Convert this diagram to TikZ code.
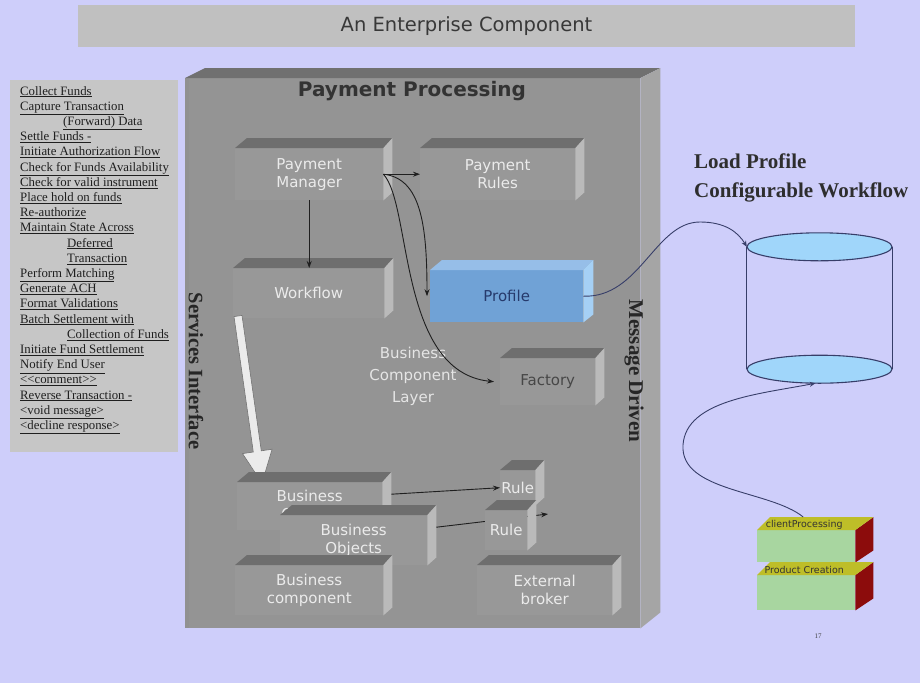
\documentclass[tikz,border=0pt]{standalone}
\usepackage{fontspec}
\setmainfont{Liberation Serif}
\newfontfamily\dvs{DejaVu Sans}
\usetikzlibrary{arrows.meta}
\definecolor{bg}{RGB}{206,206,250}
\definecolor{titlegray}{RGB}{192,192,192}
\definecolor{listgray}{RGB}{198,198,198}
\definecolor{mainfront}{RGB}{148,148,148}
\definecolor{maintop}{RGB}{112,112,112}
\definecolor{mainside}{RGB}{165,165,165}
\definecolor{ledgefront}{RGB}{152,152,152}
\definecolor{ledgetop}{RGB}{110,110,110}
\definecolor{ledgeside}{RGB}{186,186,186}
\definecolor{proffront}{RGB}{112,162,214}
\definecolor{proftop}{RGB}{150,190,232}
\definecolor{profside}{RGB}{165,208,245}
\definecolor{cylblue}{RGB}{160,214,250}
\definecolor{cylline}{RGB}{55,62,105}
\definecolor{greenf}{RGB}{168,214,160}
\definecolor{yellowt}{RGB}{190,190,40}
\definecolor{redside}{RGB}{140,12,12}
\tikzset{
  ledgebox/.style={fill=ledgefront, text=white!92!black, inner sep=0pt, align=center,
     font=\dvs\fontsize{15}{18}\selectfont},
  arr/.style={-{Stealth[length=7pt,width=5pt]}, line width=0.9pt, draw=black!88},
  carr/.style={-{Stealth[length=6pt,width=5pt]}, line width=0.9pt, draw=cylline},
  vlabel/.style={font=\bfseries\fontsize{20.5}{22}\selectfont, text=black!85, rotate=-90},
  greentext/.style={font=\dvs\fontsize{9.5}{10}\selectfont, text=black!80},
}
\newcommand\ledge[6]{%
  \node[ledgebox, minimum width=#4pt, minimum height=#5pt, anchor=north west] (#1) at (#2,#3) {#6};
  \fill[ledgetop] (#1.north west) -- ++(12,-10) -- ([shift={(9,-10)}]#1.north east) -- (#1.north east) -- cycle;
  \fill[ledgeside] (#1.north east) -- ++(9,-10) -- ([shift={(9,-8)}]#1.south east) -- (#1.south east) -- cycle;
}
\begin{document}
\begin{tikzpicture}[x=1pt,y=-1pt]
\useasboundingbox (0,0) rectangle (920,683);
\fill[bg] (0,0) rectangle (920,683);
% title
\node[fill=titlegray, minimum width=777pt, minimum height=42pt, inner sep=0pt,
      font=\dvs\fontsize{19.5}{21}\selectfont, text=black!78] (title) at (466.5,26) {An Enterprise Component};
% list box
\node[fill=listgray, minimum width=168pt, minimum height=372pt, anchor=north west, inner sep=0pt] (listbox) at (10,80) {};
\node[anchor=north west, inner sep=0pt, align=left, text=black!88,
      font=\fontsize{12.8}{15.2}\selectfont] (listtxt) at (20,86) {%
\underline{Collect Funds}\\
\underline{Capture Transaction}\\
\hspace*{43pt}\underline{(Forward) Data}\\
\underline{Settle Funds -}\\
\underline{Initiate Authorization Flow}\\
\underline{Check for Funds Availability}\\
\underline{Check for valid instrument}\\
\underline{Place hold on funds}\\
\underline{Re-authorize}\\
\underline{Maintain State Across}\\
\hspace*{47pt}\underline{Deferred}\\
\hspace*{47pt}\underline{Transaction}\\
\underline{Perform Matching}\\
\underline{Generate ACH}\\
\underline{Format Validations}\\
\underline{Batch Settlement with}\\
\hspace*{47pt}\underline{Collection of Funds}\\
\underline{Initiate Fund Settlement}\\
\underline{Notify End User}\\
\underline{{<}{<}comment{>}{>}}\\
\underline{Reverse Transaction -}\\
\underline{{<}void message{>}}\\
\underline{{<}decline response{>}}};
% main box
\node[fill=mainfront, minimum width=455pt, minimum height=550pt, anchor=north west, inner sep=0pt] (main) at (185,78) {};
\fill[maintop] (main.north west) -- ++(20,-10) -- ([shift={(20,-10)}]main.north east) -- (main.north east) -- cycle;
\fill[mainside] (main.north east) -- ++(20,-10) -- ([shift={(20,-16)}]main.south east) -- (main.south east) -- cycle;
\fill[black!45,opacity=0.35] (main.north west) rectangle ([xshift=4pt]main.south west);
\node[font=\dvs\bfseries\fontsize{20}{22}\selectfont, text=black!80] (pp) at (412,91) {Payment Processing};
\node[vlabel] (si) at (196,371) {Services Interface};
\node[vlabel, font=\bfseries\fontsize{21}{22}\selectfont] (md) at (634,371) {Message Driven};
% ledges
\ledge{pm}{235}{148}{148}{52}{Payment\\Manager}
\ledge{pr}{420}{148}{155}{52}{Payment\\Rules}
\ledge{wf}{233}{268}{151}{50}{Workflow}
\ledge{fac}{500}{358}{95}{47}{\textcolor{black!72}{Factory}}
% profile
\node[fill=proffront, minimum width=153pt, minimum height=52pt, anchor=north west, inner sep=0pt,
      font=\dvs\fontsize{15}{18}\selectfont, text={rgb,255:red,38;green,58;blue,108}] (prof) at (430,270) {Profile};
\fill[proftop] (prof.north west) -- ++(12,-10) -- ([shift={(10,-10)}]prof.north east) -- (prof.north east) -- cycle;
\fill[profside] (prof.north east) -- ++(10,-10) -- ([shift={(10,-8)}]prof.south east) -- (prof.south east) -- cycle;
\node[font=\dvs\fontsize{15}{22}\selectfont, text=white!90!black, align=center] (bcl) at (413,376) {Business\\Component\\Layer};
% big hollow arrow
\filldraw[fill=white!92!black, draw=black!55, line width=0.6pt]
  (234,316.6) -- (242,315.4) -- (261.3,450.8) -- (272.1,449.2) -- (262,483) -- (242.5,453.6) -- (253.3,452) -- cycle;
% lower ledges
\ledge{bob}{237}{482}{145}{48}{Business\\Objects}
\ledge{bof}{280}{515}{147}{50}{Business\\Objects}
\ledge{bc}{235}{565}{148}{50}{Business\\component}
\ledge{r1}{500}{470}{35}{35}{Rule}
\coordinate (r2tip) at (548,514);
\draw[arr] ([shift={(9,-13)}]bof.east) -- (r2tip);
\ledge{r2}{485}{510}{42}{40}{Rule}
\ledge{eb}{477}{565}{135}{50}{External\\broker}
% connectors inside
\draw[arr] (pm.south) -- (pm.south |- wf.north);
\draw[arr] (pm.east) -- (pr.west);
\draw[arr] (pm.east) .. controls +(38,4) and +(0,-70) .. ([xshift=-3pt]prof.west);
\draw[arr] (pm.east) .. controls (412,205) and (398,372) .. ([xshift=-6pt]fac.west);
\draw[arr] ([shift={(9,-12)}]bob.east) -- (r1.west);
% right side
\node[font=\bfseries\fontsize{21}{29}\selectfont, text=black!82, align=left, anchor=north west, inner sep=0pt] (lp) at (694,154) {Load Profile\\Configurable Workflow};
\node[minimum width=145pt, minimum height=122pt, inner sep=0pt] (cyl) at (819.5,308) {};
\draw[cylline, line width=1.1pt] (cyl.north west) -- (cyl.south west);
\draw[cylline, line width=1.1pt] (cyl.north east) -- (cyl.south east);
\filldraw[fill=cylblue, draw=cylline, line width=1.1pt] (cyl.north) ellipse [x radius=72.5pt, y radius=14pt];
\filldraw[fill=cylblue, draw=cylline, line width=1.1pt] (cyl.south) ellipse [x radius=72.5pt, y radius=14pt];
% green stack
\node[fill=greenf, minimum width=98pt, minimum height=35pt, anchor=north west, inner sep=0pt] (gb2) at (757,575) {};
\fill[redside] (gb2.north east) -- ++(18,-13) -- ([shift={(18,-12)}]gb2.south east) -- (gb2.south east) -- cycle;
\node[fill=greenf, minimum width=98pt, minimum height=32pt, anchor=north west, inner sep=0pt] (gb1) at (757,530) {};
\fill[redside] (gb1.north east) -- ++(18,-13) -- ([shift={(18,-12)}]gb1.south east) -- (gb1.south east) -- cycle;
\fill[yellowt] (gb1.north west) -- ++(13,-13) -- ([shift={(18,-13)}]gb1.north east) -- (gb1.north east) -- cycle;
\fill[yellowt] (gb2.north west) -- ++(13,-13) -- ([shift={(18,-13)}]gb2.north east) -- (gb2.north east) -- cycle;
\node[greentext] (gt1) at ([shift={(-2,-5.5)}]gb1.north) {clientProcessing};
\node[greentext] (gt2) at ([shift={(-2,-5.5)}]gb2.north) {Product Creation};
\draw[carr] (prof.east) .. controls (640,298) and (655,222) .. (700,222) .. controls (725,222) and (738,232) .. (cyl.north west);
\draw[carr] ([shift={(-3,-13)}]gb1.north) .. controls (770,490) and (680,492) .. (683,445)
   .. controls (686,400) and (760,394) .. ([shift={(-4,14)}]cyl.south);
\node[font=\fontsize{7}{8}\selectfont, text=black!75] (pg) at (818,636) {17};
\end{tikzpicture}
\end{document}
